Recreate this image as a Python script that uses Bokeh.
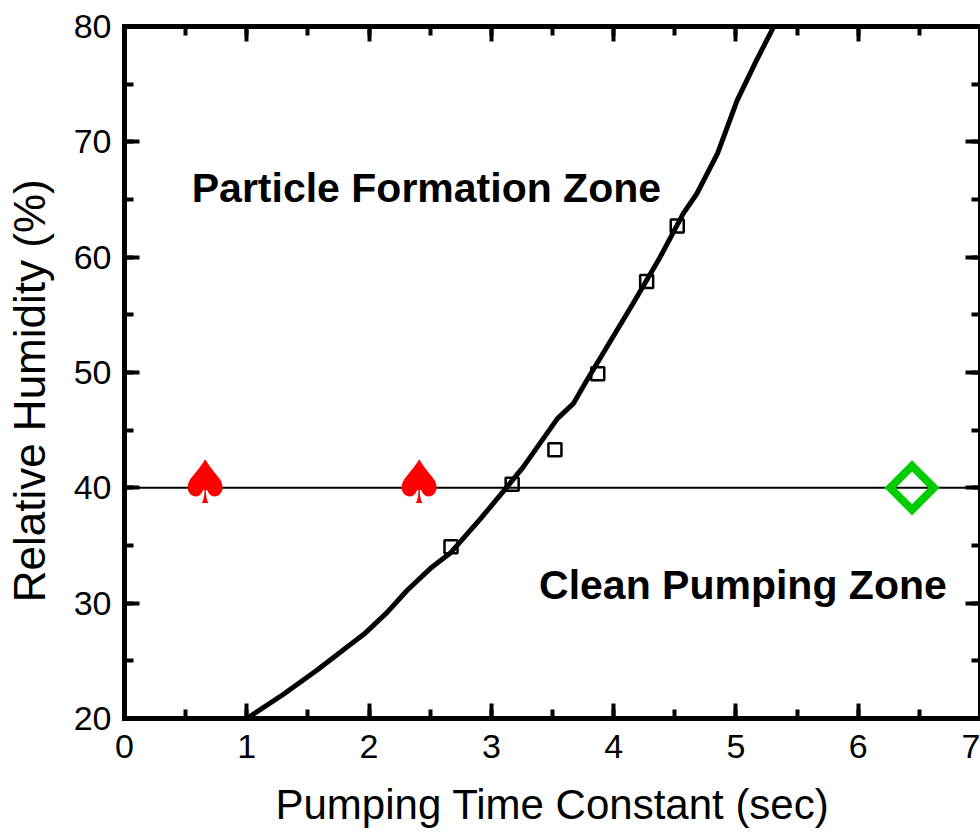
from bokeh.plotting import figure
from bokeh.models import Range1d, LinearAxis, Span, SingleIntervalTicker, Label, CustomJSTickFormatter
from bokeh.core.properties import value
from bokeh.embed import file_html
from bokeh.resources import INLINE

# ---- data ----
curve_x = [1.00, 1.30, 1.576, 1.82, 1.957, 2.148, 2.31, 2.50, 2.67, 2.91, 3.13, 3.26,
           3.54, 3.67, 3.78, 4.16, 4.38, 4.57, 4.68, 4.85, 5.01, 5.17, 5.30, 5.32]
curve_y = [20.0, 22.1, 24.2, 26.2, 27.3, 29.2, 31.1, 33.0, 34.4, 37.3, 40.1, 41.8,
           46.0, 47.3, 49.3, 56.0, 60.0, 63.8, 65.5, 69.0, 73.6, 77.1, 79.8, 80.3]

meas_x = [2.67, 3.17, 3.52, 3.87, 4.27, 4.52]
meas_y = [34.9, 40.3, 43.3, 49.9, 57.9, 62.7]

spade_x = [0.66, 2.41]
spade_y = [40, 40]
spade_text = ["\u2660", "\u2660"]

diamond_x = [6.44]
diamond_y = [40]

threshold_rh = 40

x_label = "Pumping Time Constant (sec)"
y_label = "Relative Humidity (%)"
zone_top = "Particle Formation Zone"
zone_bottom = "Clean Pumping Zone"

FONT = "Liberation Sans"

p = figure(width=980, height=833,
           x_range=Range1d(0, 7), y_range=Range1d(20, 80),
           output_backend="svg", toolbar_location=None,
           min_border_left=124, min_border_right=0,
           min_border_top=26, min_border_bottom=115,
           x_axis_label=x_label,
           # trailing no-break spaces shift the rotated title's visible text downward
           y_axis_label=y_label + "\u00a0\u00a0\u00a0")
p.grid.visible = False
p.outline_line_color = None
p.background_fill_color = "white"

p.add_layout(LinearAxis(), "above")
p.add_layout(LinearAxis(), "right")

bottom = p.below[0]
left = p.left[0]
top = p.above[0]
right = p.right[0]

for ax in (bottom, top):
    ax.ticker = SingleIntervalTicker(interval=1, num_minor_ticks=2)
for ax in (left, right):
    ax.ticker = SingleIntervalTicker(interval=10, num_minor_ticks=2)

for ax in (bottom, left, top, right):
    ax.axis_line_width = 5
    ax.axis_line_color = "black"
    ax.axis_line_cap = "square"
    ax.major_tick_line_width = 4
    ax.minor_tick_line_width = 4
    ax.major_tick_line_color = "black"
    ax.minor_tick_line_color = "black"
    ax.major_tick_in = 15
    ax.major_tick_out = 0
    ax.minor_tick_in = 9
    ax.minor_tick_out = 0
    ax.major_label_text_font = FONT
    ax.major_label_text_font_size = "34px"
    ax.major_label_text_color = "black"
    ax.axis_label_text_font = FONT
    ax.axis_label_text_font_style = "normal"
    ax.axis_label_text_color = "black"

bottom.axis_label_text_font_size = "42px"
left.axis_label_text_font_size = "44px"
bottom.major_label_standoff = 16
bottom.axis_label_standoff = 20
left.major_label_standoff = 13
left.axis_label_standoff = 17

for ax in (top, right):
    ax.formatter = CustomJSTickFormatter(code="return ''")
    ax.major_label_standoff = 0
    ax.axis_label = None

p.add_layout(Span(location=threshold_rh, dimension="width", line_color="black",
                  line_width=2, level="underlay"))

p.line(curve_x, curve_y, line_color="black", line_width=5)
p.scatter(meas_x, meas_y, marker="square", size=13, fill_color=None,
          line_color="black", line_width=2.5)
p.text(x=spade_x, y=spade_y, text=spade_text, text_color="red",
       text_font=value("DejaVu Sans"), text_font_size="60px",
       text_align="center", text_baseline="middle", y_offset=-6)
p.scatter(diamond_x, diamond_y, marker="square", angle=0.7853981634, size=31,
          fill_color=None, line_color="#00CC00", line_width=8, line_join="miter")

p.add_layout(Label(x=0.55, y=66.0, text=zone_top, text_font=FONT,
                   text_font_style="bold", text_font_size="41px",
                   text_color="black", text_baseline="alphabetic"))
p.add_layout(Label(x=3.39, y=31.55, text=zone_bottom, text_font=FONT,
                   text_font_style="bold", text_font_size="41px",
                   text_color="black", text_baseline="alphabetic"))

open("out.html", "w").write(file_html(p, INLINE))
